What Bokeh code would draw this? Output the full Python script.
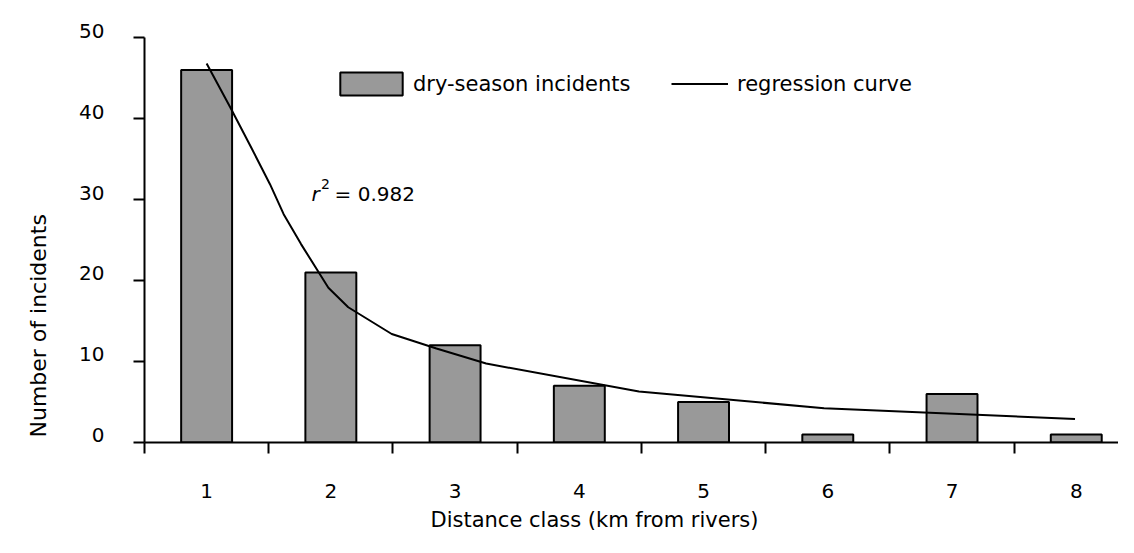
from bokeh.plotting import figure
from bokeh.models import (FixedTicker, Label, Range1d, Legend, LegendItem, LinearAxis, Title,
                          CustomLabelingPolicy)
from bokeh.embed import file_html
from bokeh.resources import INLINE

# ---- data ----
categories = [1, 2, 3, 4, 5, 6, 7, 8]
category_labels = ["1", "2", "3", "4", "5", "6", "7", "8"]
incidents = [46, 21, 12, 7, 5, 1, 6, 1]
curve_x = [1.0, 1.19, 1.36, 1.51, 1.62, 1.76, 1.98, 2.14, 2.49, 2.85, 3.25, 4.48, 5.97, 7.99]
curve_y = [46.8, 41.4, 36.4, 31.9, 28.2, 24.5, 19.1, 16.7, 13.4, 11.6, 9.75, 6.3, 4.23, 2.9]
y_ticks = [0, 10, 20, 30, 40, 50]
y_tick_labels = ["0", "10", "20", "30", "40", "50"]
r2_value = "= 0.982"

FONT = "DejaVu Sans"
label_shift = 0.87   # tick labels sit just above their tick (in y units)

p = figure(width=1118, height=537, output_backend="svg", toolbar_location=None,
           x_range=Range1d(0.5, 8.34), y_range=Range1d(0, 51),
           min_border_left=144, min_border_right=0, min_border_top=29, min_border_bottom=95)
p.outline_line_color = None
p.xgrid.visible = False
p.ygrid.visible = False
p.background_fill_color = "white"
p.border_fill_color = "white"

bars = p.vbar(x=categories, top=incidents, width=0.41, bottom=0,
              fill_color="#999999", line_color="black", line_width=2)
curve = p.line(curve_x, curve_y, line_color="black", line_width=2)

# x axis
boundaries = [c - 0.5 for c in categories] + [categories[-1] + 0.5]
xa = p.xaxis[0]
xa.ticker = FixedTicker(ticks=categories, minor_ticks=boundaries)
xa.major_label_overrides = {c: lab for c, lab in zip(categories, category_labels)}
xa.major_tick_out = 0
xa.major_tick_in = 0
xa.major_tick_line_color = None
xa.minor_tick_out = 11
xa.minor_tick_in = 0
xa.minor_tick_line_width = 2
xa.minor_tick_line_color = "black"
xa.axis_line_width = 2
xa.axis_line_color = "black"
xa.major_label_text_font = FONT
xa.major_label_text_font_size = "20px"
xa.major_label_text_color = "black"
xa.major_label_standoff = 30

# x axis title
p.add_layout(Title(text="Distance class (km from rivers)", align="left", offset=286,
                   vertical_align="bottom", standoff=10,
                   text_font=FONT, text_font_size="21px", text_font_style="normal",
                   text_color="black"), "below")

# y axis: line + ticks only (labels are drawn by the second axis)
ya = p.yaxis[0]
ya.ticker = FixedTicker(ticks=y_ticks, minor_ticks=[])
ya.bounds = (y_ticks[0], y_ticks[-1])
ya.major_tick_out = 11
ya.major_tick_in = 0
ya.major_tick_line_width = 2
ya.axis_line_width = 2
ya.axis_line_color = "black"
ya.major_label_standoff = 0
ya.major_label_text_font_size = "1px"
ya.major_label_policy = CustomLabelingPolicy(
    code="for (const i of Array.from(indices)) { indices.unset(i) }\nreturn indices")

# y tick labels (baseline at their tick)
label_ticks = [t + label_shift for t in y_ticks]
ylab = LinearAxis(ticker=FixedTicker(ticks=label_ticks, minor_ticks=[]),
                  major_label_overrides={lt: s for lt, s in zip(label_ticks, y_tick_labels)},
                  axis_line_color=None, major_tick_line_color=None, minor_tick_line_color=None,
                  major_tick_out=0, major_tick_in=0,
                  major_label_standoff=25,
                  major_label_text_font=FONT, major_label_text_font_size="20px",
                  major_label_text_color="black")
p.add_layout(ylab, "left")

# y axis title
p.add_layout(Title(text="Number of incidents", align="left", offset=5,
                   vertical_align="top", standoff=48,
                   text_font=FONT, text_font_size="22px", text_font_style="normal",
                   text_color="black"), "left")

# r^2 annotation
p.add_layout(Label(x=1.845, y=30.7, text="r", text_font=FONT, text_font_size="20px",
                   text_font_style="italic", text_baseline="alphabetic", text_color="black"))
p.add_layout(Label(x=1.92, y=31.9, text="2", text_font=FONT, text_font_size="14px",
                   text_baseline="alphabetic", text_color="black"))
p.add_layout(Label(x=2.03, y=30.7, text=r2_value, text_font=FONT, text_font_size="20px",
                   text_baseline="alphabetic", text_color="black"))

def make_legend(item, gw, gh, standoff, loc):
    lg = Legend(items=[item], orientation="horizontal", location=loc)
    lg.margin = 0
    lg.padding = 0
    lg.border_line_color = None
    lg.background_fill_alpha = 0
    lg.glyph_width = gw
    lg.glyph_height = gh
    lg.label_height = gh
    lg.label_standoff = standoff
    lg.label_text_font = FONT
    lg.label_text_font_size = "21px"
    lg.label_text_color = "black"
    return lg

p.add_layout(make_legend(LegendItem(label="dry-season incidents", renderers=[bars]),
                         78, 29, 3, (188, 344)), "center")
p.add_layout(make_legend(LegendItem(label="regression curve", renderers=[curve]),
                         57, 29, 9, (527, 344)), "center")

open("out.html", "w").write(file_html(p, INLINE))
